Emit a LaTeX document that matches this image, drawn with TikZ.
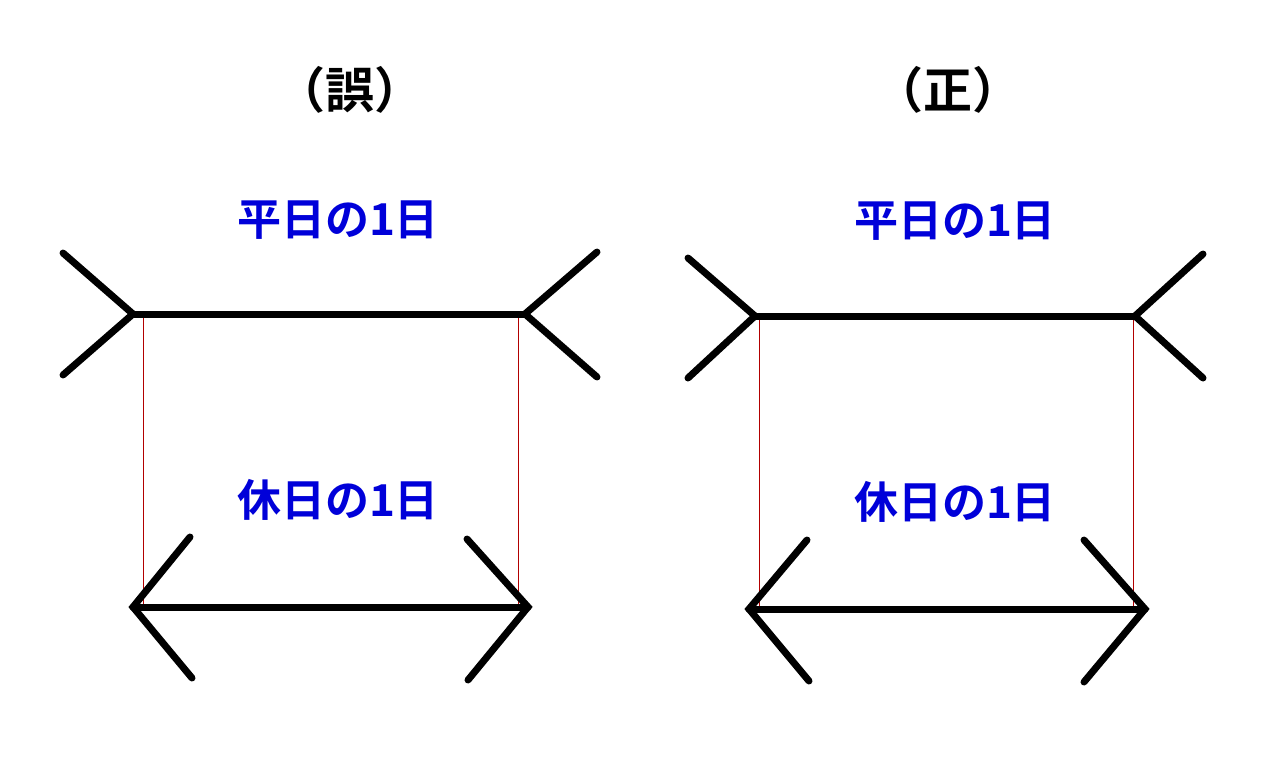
\documentclass[tikz,border=0pt]{standalone}
\usepackage{fontspec}
\newfontfamily\cjk{Noto Sans CJK JP}[BoldFont={Noto Sans CJK JP Bold}]
\begin{document}
\begin{tikzpicture}[x=1pt,y=-1pt,
  fig/.style={line width=7pt,line cap=round,line join=miter},
  guide/.style={red!70!black,line width=0.6pt},
  lbl/.style={font=\cjk\bfseries\fontsize{44}{44}\selectfont,text=blue!85!black},
  ttl/.style={font=\cjk\bfseries\fontsize{49}{49}\selectfont}]
\useasboundingbox[fill=white] (0,0) rectangle (1275,777);
\node[ttl] (t1) at (350,90) {（誤）};
\node[ttl] (t2) at (948,90) {（正）};
\node[lbl] (a1) at (338,220) {平日の1日};
\node[lbl] (b1) at (338,500) {休日の1日};
\node[lbl] (a2) at (955,221) {平日の1日};
\node[lbl] (b2) at (955,502) {休日の1日};
% left figure
\coordinate (L1) at (133,314); \coordinate (R1) at (525,314);
\coordinate (L2) at (133,607); \coordinate (R2) at (528,607);
\draw[guide] (143,314) -- (143,607);
\draw[guide] (518,314) -- (518,607);
\draw[fig] (L1) -- (R1);
\draw[fig] (63,253) -- (L1) -- (63,375);
\draw[fig] (597,252) -- (R1) -- (597,377);
\draw[fig] (L2) -- (R2);
\draw[fig] (190,537) -- (L2) -- (192,678);
\draw[fig] (467,539) -- (R2) -- (468,680);
% right figure
\coordinate (L3) at (755,316); \coordinate (R3) at (1135,316);
\coordinate (L4) at (749,609); \coordinate (R4) at (1145,609);
\draw[guide] (759,316) -- (759,609);
\draw[guide] (1133,316) -- (1133,609);
\draw[fig] (L3) -- (R3);
\draw[fig] (688,258) -- (L3) -- (688,378);
\draw[fig] (1203,254) -- (R3) -- (1203,378);
\draw[fig] (L4) -- (R4);
\draw[fig] (807,540) -- (L4) -- (809,681);
\draw[fig] (1084,540) -- (R4) -- (1084,682);
\end{tikzpicture}
\end{document}
